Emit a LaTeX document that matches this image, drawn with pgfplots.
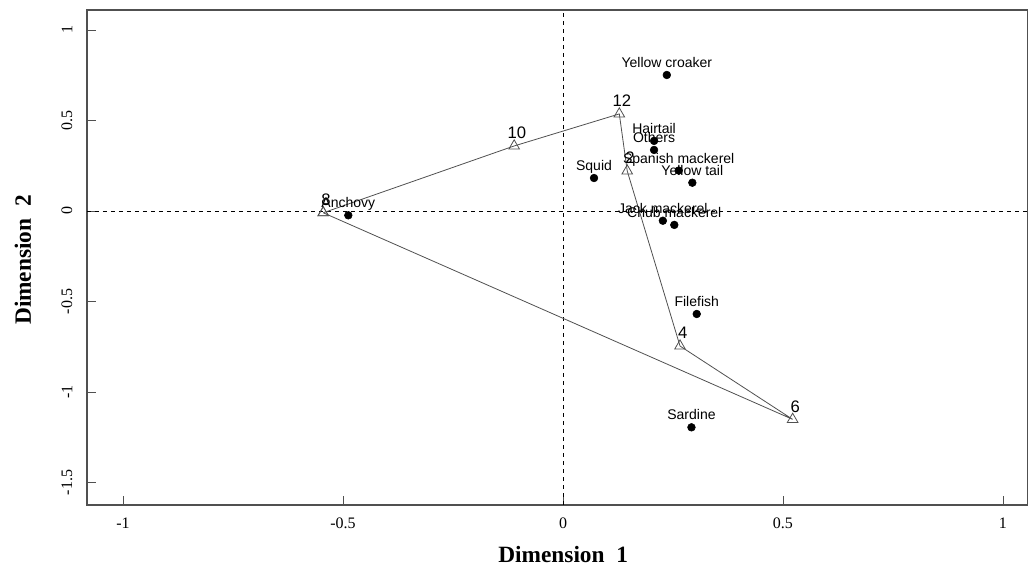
\documentclass[border=0pt]{standalone}
\usepackage{pgfplots}
\pgfplotsset{compat=1.18}
\usepackage{fontspec}
\setmainfont{Liberation Serif}
\newfontfamily\arial{Liberation Sans}
\definecolor{lgray}{RGB}{80,80,80}
\begin{document}
\begin{tikzpicture}
\begin{axis}[
  width=705.75pt, height=371.25pt, scale only axis,
  xmin=-1.082, xmax=1.057, ymin=-1.624, ymax=1.11,
  xtick={-1,-0.5,0,0.5,1}, ytick={-1.5,-1,-0.5,0,0.5,1},
  tick align=inside, tick pos=left, major tick length=7pt,
  axis line style={line width=0.8pt, color=lgray},
  tick style={line width=0.6pt, color=lgray},
  /pgf/number format/assume math mode=true,
  ticklabel style={font=\fontsize{12}{14}\selectfont},
  xticklabel style={anchor=center},
  xticklabel shift=13.5pt,
  yticklabel style={anchor=center, rotate=90},
  yticklabel shift=15pt,
  xlabel={\textbf{Dimension\ \ 1}},
  ylabel={\textbf{Dimension\ \ 2}},
  label style={font=\fontsize{17.5}{20}\selectfont},
  xlabel style={at={(axis description cs:0.506,0)}, anchor=center, yshift=-37pt},
  ylabel style={at={(axis description cs:0,0.495)}, anchor=center, rotate=0, yshift=48pt},
  clip=false,
]
\coordinate (sw) at (rel axis cs:0,0);
\coordinate (ne) at (rel axis cs:1,1);
\addplot[black, dashed, line width=0.6pt] coordinates {(0,-1.624) (0,1.11)};
\addplot[black, dashed, line width=0.6pt] coordinates {(-1.082,0) (1.057,0)};
% polygon of years
\addplot[lgray, line width=0.6pt, mark=triangle, mark size=4.6pt, mark options={fill=white, draw=lgray, solid}]
  coordinates {(-0.545,-0.01) (-0.111,0.359) (0.128,0.536) (0.146,0.221) (0.266,-0.746) (0.522,-1.151) (-0.545,-0.01)};
\addplot[draw=none, nodes near coords, point meta=explicit symbolic,
  every node near coord/.style={anchor=base, yshift=5.5pt, xshift=2pt, font=\arial\fontsize{12.5}{14}\selectfont, text=black}]
  table[row sep=\\, meta=label] {
  x y label\\
  -0.545 -0.01 8\\
  -0.111 0.359 10\\
  0.128 0.536 12\\
  0.146 0.221 2\\
  0.266 -0.746 4\\
  0.522 -1.151 6\\
  };
% species
\addplot[only marks, mark=*, mark size=2.9pt, black, nodes near coords, point meta=explicit symbolic,
  every node near coord/.style={anchor=base, yshift=5.5pt, font=\arial\fontsize{10.5}{12}\selectfont, text=black}]
  table[row sep=\\, col sep=comma, meta=label] {
  x,y,label\\
  0.236,0.751,Yellow croaker\\
  0.207,0.387,Hairtail\\
  0.207,0.337,Others\\
  0.263,0.223,Spanish mackerel\\
  0.294,0.156,Yellow tail\\
  0.0705,0.182,Squid\\
  0.227,-0.054,Jack mackerel\\
  0.253,-0.077,Chub mackerel\\
  -0.488,-0.024,Anchovy\\
  0.304,-0.569,Filefish\\
  0.292,-1.195,Sardine\\
  };
\end{axis}
\pgfresetboundingbox
\useasboundingbox ([shift={(-65.25pt,-48.75pt)}]sw) rectangle ([shift={(0pt,7.5pt)}]ne);
\end{tikzpicture}
\end{document}
